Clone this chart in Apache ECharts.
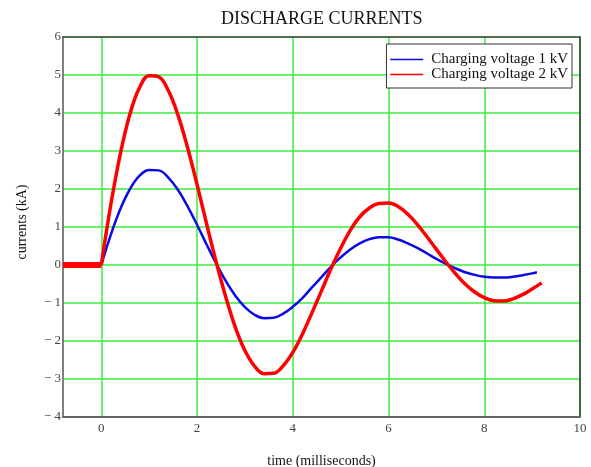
<!DOCTYPE html>
<html><head><meta charset="utf-8">
<script src="https://cdn.jsdelivr.net/npm/echarts@6/dist/echarts.min.js"></script>
<style>html,body{margin:0;padding:0;background:#fff}#c{width:591px;height:467px}</style>
</head><body><div id="c"></div>
<script>
// time in milliseconds, currents in kA
const timePre = [-0.8, -0.6, -0.4, -0.2, 0];
const currentPre1kV = [0, 0, 0, 0, 0];
const currentPre2kV = [0, 0, 0, 0, 0];

const time2kV = [0, 0.2, 0.4, 0.6, 0.8, 1.0, 1.2, 1.4, 1.6, 1.8, 2.0, 2.2, 2.4, 2.6, 2.8, 3.0, 3.2, 3.4, 3.6, 3.8,
  4.0, 4.2, 4.4, 4.6, 4.8, 5.0, 5.2, 5.4, 5.6, 5.8, 6.0, 6.2, 6.4, 6.6, 6.8, 7.0, 7.2, 7.4, 7.6, 7.8,
  8.0, 8.2, 8.4, 8.6, 8.8, 9.0, 9.2];
const current2kV = [0, 1.60, 2.94, 3.98, 4.67, 4.98, 4.95, 4.59, 3.95, 3.10, 2.12, 1.08, 0.08, -0.84, -1.64, -2.25, -2.66, -2.86, -2.85, -2.65,
  -2.30, -1.82, -1.26, -0.68, -0.09, 0.44, 0.91, 1.27, 1.50, 1.62, 1.63, 1.54, 1.34, 1.07, 0.75, 0.41, 0.08, -0.23, -0.50, -0.71,
  -0.86, -0.94, -0.95, -0.89, -0.78, -0.63, -0.47];

const time1kV = [0, 0.2, 0.4, 0.6, 0.8, 1.0, 1.2, 1.4, 1.6, 1.8, 2.0, 2.2, 2.4, 2.6, 2.8, 3.0, 3.2, 3.4, 3.6, 3.8,
  4.0, 4.2, 4.4, 4.6, 4.8, 5.0, 5.2, 5.4, 5.6, 5.8, 6.0, 6.2, 6.4, 6.6, 6.8, 7.0, 7.2, 7.4, 7.6, 7.8,
  8.0, 8.2, 8.4, 8.6, 8.8, 9.0, 9.1];
const current1kV = [0, 0.80, 1.48, 2.00, 2.35, 2.50, 2.49, 2.30, 1.98, 1.55, 1.06, 0.54, 0.04, -0.42, -0.81, -1.11, -1.31, -1.40, -1.39, -1.28,
  -1.10, -0.87, -0.59, -0.32, -0.04, 0.20, 0.41, 0.57, 0.68, 0.73, 0.73, 0.67, 0.57, 0.45, 0.31, 0.16, 0.03, -0.09, -0.19, -0.26,
  -0.31, -0.33, -0.33, -0.31, -0.27, -0.22, -0.19];

const seriesNames = ['Charging voltage 1 kV', 'Charging voltage 2 kV'];
const seriesColors = ['#0a0ae6', '#ff0000'];

function pairs(t, v) { return t.map((x, i) => [x, v[i]]); }
const serif = '"Liberation Serif", "DejaVu Serif", serif';
const gridGreen = '#3cee3c';

const chart = echarts.init(document.getElementById('c'), null, { renderer: 'canvas' });
chart.setOption({
  animation: false,
  backgroundColor: '#fff',
  title: {
    text: 'DISCHARGE CURRENTS',
    left: 216, top: 5,
    textStyle: { fontFamily: serif, fontSize: 18, fontWeight: 'normal', color: '#111' }
  },
  legend: {
    data: seriesNames,
    orient: 'vertical',
    right: 19, top: 44,
    padding: [8, 4, 6, 3],
    itemGap: 0,
    itemWidth: 33,
    itemHeight: 14,
    backgroundColor: '#fff',
    borderColor: '#333',
    borderWidth: 1,
    lineStyle: { width: 1.5 },
    itemStyle: { opacity: 0 },
    textStyle: { fontFamily: serif, fontSize: 15, color: '#111', padding: [0, 0, 0, 3] }
  },
  grid: {
    left: 63, right: 11, top: 37, bottom: 50,
    outerBoundsMode: 'none', containLabel: false
  },
  xAxis: [{
    type: 'value', min: -0.8, max: 10,
    name: 'time (milliseconds)', nameLocation: 'middle', nameGap: 37,
    nameTextStyle: { fontFamily: serif, fontSize: 14, color: '#111' },
    axisLine: { show: true, onZero: false, lineStyle: { color: '#666', width: 2 } },
    axisTick: { show: false },
    splitLine: { show: true, lineStyle: { color: gridGreen, width: 1.5 } },
    axisLabel: { showMinLabel: false, color: '#444', fontFamily: serif, fontSize: 13, margin: 5 }
  }, {
    type: 'value', position: 'top', min: -0.8, max: 10,
    axisLine: { show: true, onZero: false, lineStyle: { color: '#444', width: 1.5 } },
    axisTick: { show: false }, axisLabel: { show: false }, splitLine: { show: false }
  }],
  yAxis: [{
    type: 'value', min: -4, max: 6, interval: 1,
    name: 'currents (kA)', nameLocation: 'middle', nameGap: 34, nameRotate: 90,
    nameTextStyle: { fontFamily: serif, fontSize: 14, color: '#111', padding: [0, 0, 0, 10] },
    axisLine: { show: true, onZero: false, lineStyle: { color: '#808080', width: 2 } },
    axisTick: { show: false },
    splitLine: { show: true, lineStyle: { color: gridGreen, width: 1.5 } },
    axisLabel: {
      color: '#444', fontFamily: serif, fontSize: 13, margin: 2,
      formatter: v => v < 0 ? '\u2212 ' + Math.abs(v) : String(v)
    }
  }, {
    type: 'value', position: 'right', min: -4, max: 6, interval: 1,
    axisLine: { show: true, onZero: false, lineStyle: { color: '#333', width: 1.5 } },
    axisTick: { show: false }, axisLabel: { show: false }, splitLine: { show: false }
  }],
  series: [
    { name: seriesNames[0], type: 'line', symbol: 'none', data: pairs(timePre, currentPre1kV),
      lineStyle: { color: seriesColors[0], width: 2.5 }, itemStyle: { color: seriesColors[0] } },
    { name: seriesNames[0], type: 'line', symbol: 'none', smooth: 0.4, data: pairs(time1kV, current1kV),
      lineStyle: { color: seriesColors[0], width: 2.5 }, itemStyle: { color: seriesColors[0] } },
    { name: seriesNames[1], type: 'line', symbol: 'none', data: pairs(timePre, currentPre2kV),
      lineStyle: { color: seriesColors[1], width: 6 }, itemStyle: { color: seriesColors[1] } },
    { name: seriesNames[1], type: 'line', symbol: 'none', smooth: 0.4, data: pairs(time2kV, current2kV),
      lineStyle: { color: seriesColors[1], width: 3.5 }, itemStyle: { color: seriesColors[1] } }
  ]
});
</script>
</body></html>
